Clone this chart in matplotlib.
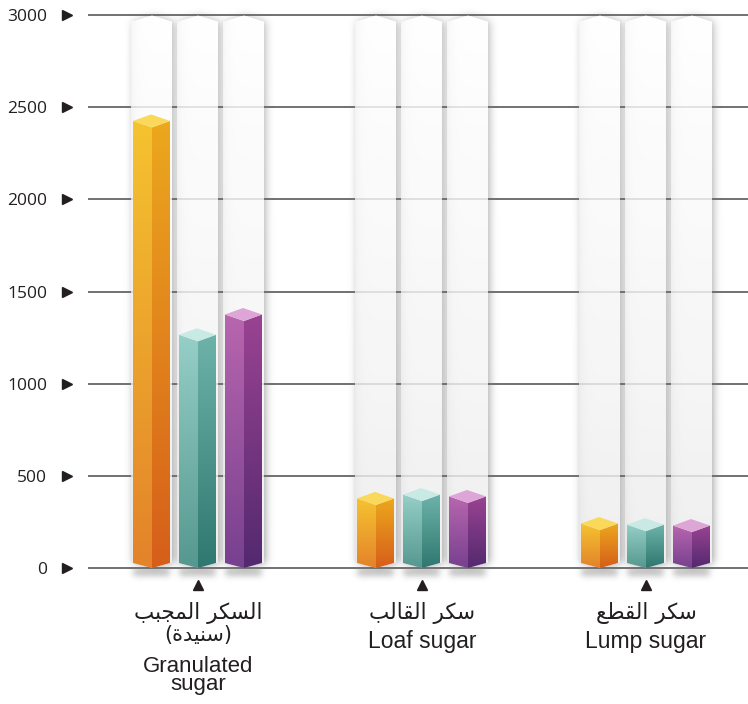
import numpy as np
import matplotlib
matplotlib.use('Agg')
import matplotlib.pyplot as plt
from matplotlib.patches import Polygon

# ---------------- data ----------------
categories_ar = ['السكر المجبب', 'سكر القالب', 'سكر القطع']
categories_ar_sub = ['(سنيدة)', '', '']
categories_en = ['Granulated\nsugar', 'Loaf sugar', 'Lump sugar']
series_orange = [2390, 342, 206]
series_teal = [1230, 363, 200]
series_purple = [1340, 353, 195]
yticks = [0, 500, 1000, 1500, 2000, 2500, 3000]

# ---------------- arabic shaping (presentation forms, visual order) ----------------
FORMS = {
    'ا': ('\uFE8D', '\uFE8E', None, None),
    'ل': ('\uFEDD', '\uFEDE', '\uFEDF', '\uFEE0'),
    'س': ('\uFEB1', '\uFEB2', '\uFEB3', '\uFEB4'),
    'ك': ('\uFED9', '\uFEDA', '\uFEDB', '\uFEDC'),
    'ر': ('\uFEAD', '\uFEAE', None, None),
    'م': ('\uFEE1', '\uFEE2', '\uFEE3', '\uFEE4'),
    'ج': ('\uFE9D', '\uFE9E', '\uFE9F', '\uFEA0'),
    'ح': ('\uFEA1', '\uFEA2', '\uFEA3', '\uFEA4'),
    'ب': ('\uFE8F', '\uFE90', '\uFE91', '\uFE92'),
    'ن': ('\uFEE5', '\uFEE6', '\uFEE7', '\uFEE8'),
    'ي': ('\uFEF1', '\uFEF2', '\uFEF3', '\uFEF4'),
    'د': ('\uFEA9', '\uFEAA', None, None),
    'ة': ('\uFE93', '\uFE94', None, None),
    'ق': ('\uFED5', '\uFED6', '\uFED7', '\uFED8'),
    'ط': ('\uFEC1', '\uFEC2', '\uFEC3', '\uFEC4'),
    'ع': ('\uFEC9', '\uFECA', '\uFECB', '\uFECC'),
}


def shape_ar(text):
    out = []
    for i, ch in enumerate(text):
        if ch not in FORMS:
            out.append(ch)
            continue
        prev = text[i - 1] if i > 0 else None
        nxt = text[i + 1] if i + 1 < len(text) else None
        jp = prev in FORMS and FORMS[prev][2] is not None
        jn = nxt in FORMS and FORMS[ch][2] is not None
        iso, fin, ini, med = FORMS[ch]
        if jp and jn:
            out.append(med)
        elif jp:
            out.append(fin)
        elif jn:
            out.append(ini)
        else:
            out.append(iso)
    vis = ''.join(out)[::-1]
    return vis.translate(str.maketrans('()', ')('))


# ---------------- geometry helpers ----------------
W_PX, H_PX = 748, 704
fig = plt.figure(figsize=(W_PX / 100, H_PX / 100), dpi=100)
AX_L, AX_R, AX_T, AX_B = 88, 748, 5, 600
Y0_PX = 568
PXY = 553 / 3000.0          # pixel per unit (y)
ux = 1 / 224.0               # data units per pixel (x)
uy = 1 / PXY                 # data units per pixel (y)
ax = fig.add_axes([AX_L / W_PX, (H_PX - AX_B) / H_PX,
                   (AX_R - AX_L) / W_PX, (AX_B - AX_T) / H_PX])
xlim = (-110 * ux, -110 * ux + (AX_R - AX_L) * ux)
ylim = (-(AX_B - Y0_PX) * uy, (Y0_PX - AX_T) * uy)

groups = np.arange(len(categories_ar))
offsets = np.array([-46, 0, 46]) * ux
series = [series_orange, series_teal, series_purple]

# ---------------- ghost columns layer ----------------
W = AX_R - AX_L
H = AX_B - AX_T
xs = xlim[0] + (np.arange(W) + 0.5) * ux
ys = ylim[1] - (np.arange(H) + 0.5) * uy
X, Y = np.meshgrid(xs, ys)


def blur(a, sigma):
    r = int(3 * sigma)
    k = np.exp(-0.5 * (np.arange(-r, r + 1) / sigma) ** 2)
    k /= k.sum()
    a = np.apply_along_axis(lambda v: np.convolve(v, k, 'same'), 1, a)
    a = np.apply_along_axis(lambda v: np.convolve(v, k, 'same'), 0, a)
    return a


colmask = np.zeros_like(X)
leftshade = np.zeros_like(X)
floor = np.zeros_like(X)
for g in groups:
    for off in offsets:
        c = g + off
        dx = (X - c) / ux
        ad = np.abs(dx) / 21.0
        top_y = yticks[-1] - ad * 6.5 * uy
        bot_y = ad * 5 * uy
        mx = np.clip(np.minimum(dx + 21.5, 20.5 - dx), 0, 1)
        my = np.clip(np.minimum((top_y - Y) / uy, (Y - bot_y) / uy), 0, 1)
        m = mx * my
        colmask = np.maximum(colmask, m)
        leftshade = np.maximum(leftshade, m * np.exp(-np.clip(dx + 21, 0, None) / 4.0))
        fx = np.clip(np.minimum(dx + 19, 18 - dx), 0, 1)
        fy = ((Y <= 0) & (Y >= -8 * uy)).astype(float)
        floor = np.maximum(floor, fx * fy)

shadow = blur(colmask, 4.0)
shadow = np.roll(shadow, 2, axis=1)
fl = blur(floor, 3.0)
fl = fl * (Y < 0)

tfrac = np.clip(Y / yticks[-1], 0, 1)
a_s = np.clip((0.45 + 0.15 * (1 - tfrac)) * shadow, 0, 1) * (1 - colmask)
a_f = np.clip(0.45 * fl, 0, 1)
a_sf = 1 - (1 - a_s) * (1 - a_f)
c_sf = np.where(a_sf > 0, (110 * a_s + 120 * a_f) / np.maximum(a_s + a_f, 1e-6), 120)

tone = 234 + 21 * tfrac ** 0.7 - 12 * leftshade
a_c = 0.82 * colmask

out_a = a_c + a_sf * (1 - a_c)
out_c = np.where(out_a > 0, (tone * a_c + c_sf * a_sf * (1 - a_c)) / np.maximum(out_a, 1e-6), 255)
layer = np.zeros((H, W, 4))
layer[..., 0] = out_c / 255
layer[..., 1] = out_c / 255
layer[..., 2] = out_c / 255
layer[..., 3] = out_a
ax.imshow(layer, extent=(xlim[0], xlim[1], ylim[0], ylim[1]), origin='upper',
          aspect='auto', interpolation='nearest', zorder=1)

# ---------------- 3D bars ----------------
palette = [
    # left bottom, left top, right bottom, right top, top face
    ('#e3832a', '#f5c330', '#d65e1a', '#eca81e', '#fad85a'),
    ('#55988f', '#96cfc7', '#2f786f', '#6db3a9', '#c8e9e4'),
    ('#77408f', '#b866ae', '#53296f', '#9a4392', '#dda6d7'),
]


def hex2rgb(h):
    h = h.lstrip('#')
    return np.array([int(h[i:i + 2], 16) for i in (0, 2, 4)]) / 255.0


def grad_face(verts, x0, x1, y0, y1, cb, ct, z):
    poly = Polygon(verts, closed=True, facecolor='none', edgecolor='none',
                   transform=ax.transData)
    n = 256
    t = np.linspace(0, 1, n)[:, None]
    arr = ((1 - t) * hex2rgb(cb) + t * hex2rgb(ct)).reshape(n, 1, 3)
    im = ax.imshow(arr, extent=(x0, x1, y0, y1), origin='lower', aspect='auto',
                   interpolation='bilinear', zorder=z)
    im.set_clip_path(poly)


d = 6.5 * uy
db = 5 * uy
for j, (vals, off) in enumerate(zip(series, offsets)):
    lb, lt, rb, rt, tp = palette[j]
    for g, v in zip(groups, vals):
        c = g + off
        L, F, R = c - 19 * ux, c, c + 18 * ux
        B = L + R - F
        grad_face([(L, db), (F, 0), (F, v), (L, v + d)], L, F, 0, v + d, lb, lt, 3)
        grad_face([(F, 0), (R, db), (R, v + d), (F, v)], F, R, 0, v + d, rb, rt, 3)
        ax.add_patch(Polygon([(L, v + d), (F, v), (R, v + d), (B, v + 2 * d)],
                             closed=True, facecolor=tp, edgecolor='none', zorder=4))

# ---------------- axes, grid, ticks ----------------
ax.set_xlim(*xlim)
ax.set_ylim(*ylim)
for s in ax.spines.values():
    s.set_visible(False)
ax.set_xticks([])
ax.set_yticks(yticks)
ax.set_yticklabels([str(v) for v in yticks])
ax.tick_params(axis='y', length=0, pad=41 * 0.72, labelsize=12.5, labelcolor='#231f20')
for lab in ax.get_yticklabels():
    lab.set_fontfamily('Open Sans')
ax.yaxis.grid(True, color='#4a4a4a', linewidth=1.1)
ax.set_axisbelow(True)

# triangles next to y labels
ax.plot([xlim[0] - 21 * ux] * len(yticks), yticks, linestyle='none', marker='>',
        markersize=6.5, color='#231f20', clip_on=False, zorder=5)
# triangles under categories
ax.plot(groups, [-17 * uy] * len(groups), linestyle='none', marker='^',
        markersize=6.5, color='#231f20', clip_on=False, zorder=5)


def ypx(p):
    return -(p - Y0_PX) * uy


for g in groups:
    ax.text(g, ypx(619), shape_ar(categories_ar[g]), ha='center', va='baseline',
            fontsize=15.5, family=['DejaVu Sans'], color='#231f20')
    if categories_ar_sub[g]:
        ax.text(g, ypx(641), shape_ar(categories_ar_sub[g]), ha='center', va='baseline',
                fontsize=15, family=['DejaVu Sans'], color='#231f20')
    en = categories_en[g]
    if '\n' in en:
        ax.text(g, ypx(656), en, ha='center', va='top', multialignment='center',
                fontsize=16, linespacing=0.82, family=['Liberation Sans'], color='#231f20')
    else:
        ax.text(g, ypx(648), en, ha='center', va='baseline', fontsize=16.5,
                family=['Liberation Sans'], color='#231f20')

fig.savefig('out.png', dpi=100)
